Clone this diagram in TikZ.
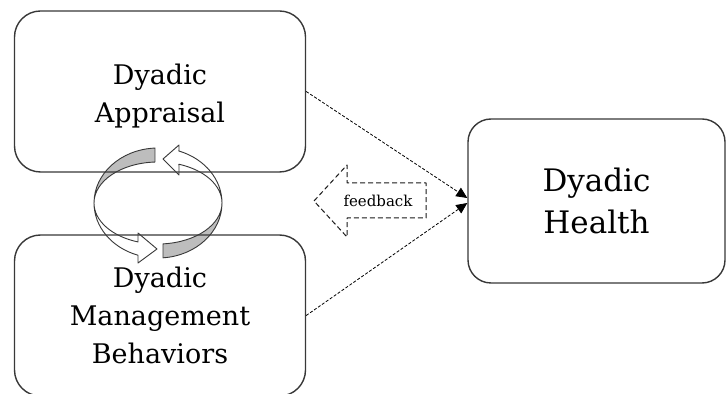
\documentclass[tikz,border=0pt]{standalone}
\usepackage{fontspec}
\setmainfont{DejaVu Serif}
\usetikzlibrary{arrows.meta,calc}
\definecolor{boxline}{HTML}{383838}
\definecolor{ribgrey}{HTML}{BDBDBD}
\begin{document}
\begin{tikzpicture}[x=1pt,y=1pt,
  bigbox/.style={draw=boxline, line width=1.4pt, rounded corners=26pt, align=center, inner sep=0pt},
  leftbox/.style={bigbox, minimum width=291pt, minimum height=161pt, font=\fontsize{27}{38}\selectfont},
  rightbox/.style={bigbox, minimum width=257pt, minimum height=164pt, rounded corners=23pt, font=\fontsize{31}{42}\selectfont},
  link/.style={draw=black, line width=0.8pt, dash pattern=on 3pt off 1.8pt, -{Triangle[length=11pt,width=10pt]}},
  ribbon/.style={draw=boxline, line width=0.9pt, line join=round},
  fbarrow/.style={draw=black!90, line width=1pt, dash pattern=on 5pt off 3pt, line join=round},
  fbtext/.style={font=\fontsize{15}{18}\selectfont, inner sep=0pt, text=black},
]
\useasboundingbox (0,0) rectangle (727,393);

% cycle of two ribbon arrows
\coordinate (O) at (158,190);
\filldraw[ribbon, fill=ribgrey] ($(O)+(92.7:64pt and 55pt)$)
  arc[start angle=92.7, end angle=180, x radius=64pt, y radius=55pt]
  arc[start angle=180, end angle=92.7, x radius=64pt, y radius=41pt] -- cycle;
\filldraw[ribbon, fill=white] ($(O)+(180:64pt and 55pt)$)
  arc[start angle=180, end angle=251.8, x radius=64pt, y radius=55pt]
  -- (138,130) -- (157,144) -- (138,160)
  -- ($(O)+(251.8:64pt and 41pt)$)
  arc[start angle=251.8, end angle=180, x radius=64pt, y radius=41pt] -- cycle;
\filldraw[ribbon, fill=ribgrey] ($(O)+(274.5:64pt and 55pt)$)
  arc[start angle=274.5, end angle=360, x radius=64pt, y radius=55pt]
  arc[start angle=360, end angle=274.5, x radius=64pt, y radius=41pt] -- cycle;
\filldraw[ribbon, fill=white] ($(O)+(0:64pt and 55pt)$)
  arc[start angle=0, end angle=70.9, x radius=64pt, y radius=55pt]
  -- (179,248) -- (163,234) -- (179,218)
  -- ($(O)+(70.9:64pt and 41pt)$)
  arc[start angle=70.9, end angle=0, x radius=64pt, y radius=41pt] -- cycle;

% boxes
\node[leftbox] (A) at (160,301.5) {\rule{0pt}{29pt}Dyadic\\Appraisal};
\node[leftbox] (B) at (160,77.5) {Dyadic\\Management\\Behaviors};
\node[rightbox] (C) at (596.5,192) {Dyadic\\Health};

% feedback arrow
\node[fbtext] (fb) at (378,192) {feedback};
\draw[fbarrow] (314,192) -- (347,228) -- (347,210) -- (426,210) -- (426,175)
  -- (347,175) -- (347,156) -- cycle;

% links
\draw[link] (A.east) -- ([yshift=3pt]C.west);
\draw[link] (B.east) -- ([yshift=-2pt]C.west);
\end{tikzpicture}
\end{document}
